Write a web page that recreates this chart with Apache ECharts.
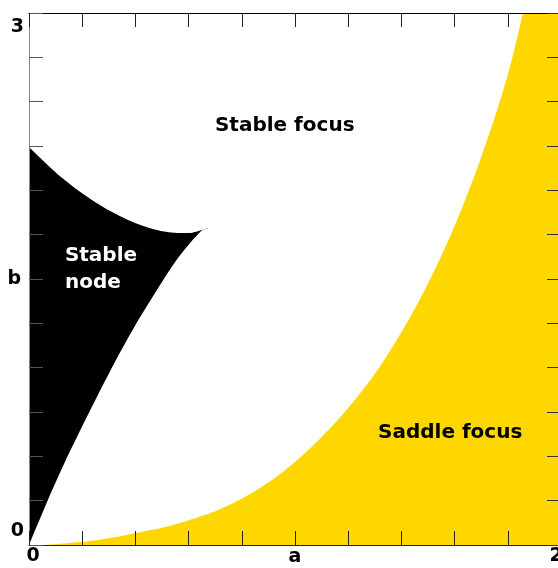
<!DOCTYPE html>
<html>
<head>
<meta charset="utf-8">
<style>
  html, body { margin: 0; padding: 0; background: #fff; }
  #chart { width: 558px; height: 568px; }
</style>
<script src="https://cdn.jsdelivr.net/npm/echarts@6/dist/echarts.min.js"></script>
</head>
<body>
<div id="chart"></div>
<script>
// Parameter plane (a, b): regions classified by the type of equilibrium.

// Upper edge of the stable-node region, from the b axis to the cusp
const nodeUpper = [[0, 2.244], [0.120, 2.075], [0.248, 1.934], [0.372, 1.833],
  [0.496, 1.771], [0.598, 1.759], [0.673, 1.788]];
// Lower edge of the stable-node region, from the origin through the cusp
const nodeLower = [[0, 0], [0.071, 0.254], [0.135, 0.468], [0.195, 0.654], [0.259, 0.846],
  [0.323, 1.032], [0.398, 1.235], [0.474, 1.421], [0.560, 1.618], [0.647, 1.771],
  [0.673, 1.788], [0.70, 1.81]];
// Boundary of the saddle-focus region (continues past the top edge)
const saddleEdge = [[0.06, 0], [0.128, 0.008], [0.267, 0.030], [0.398, 0.066], [0.511, 0.101],
  [0.598, 0.138], [0.711, 0.197], [0.831, 0.287], [0.944, 0.400], [1.068, 0.561],
  [1.195, 0.764], [1.320, 1.008], [1.459, 1.356], [1.583, 1.740], [1.695, 2.166],
  [1.797, 2.635], [1.857, 3.0], [1.92, 3.41], [2.0, 3.99]];

// Region names and their anchor points (left edge of the text)
const regionNames = ['Stable focus', 'Stable\nnode', 'Saddle focus'];
const regionAnchors = [[0.699, 2.363], [0.135, 1.557], [1.312, 0.632]];
const regionColors = ['#000000', '#ffffff', '#000000'];

// Axis ranges and the tick labels shown
const aRange = [0, 2];
const bRange = [0, 3];
const aLabels = { 0: '0', 2: '2' };
const bLabels = { 0: '0', 3: '3' };

const FONT = '"DejaVu Sans", Verdana, sans-serif';

// Filled area under a boundary curve
const areaSeries = (pts, color, z) => ({
  type: 'line',
  data: pts,
  z: z,
  silent: true,
  showSymbol: false,
  smooth: 0.3,
  clip: true,
  lineStyle: { width: 0 },
  areaStyle: { color: color, opacity: 1, origin: 'start' }
});

const tickStyle = (color) => ({ show: true, inside: true, length: 14, lineStyle: { color: color, width: 1 } });
const labelFont = { fontFamily: FONT, fontWeight: 'bold', fontSize: 19, color: '#000' };

const chart = echarts.init(document.getElementById('chart'), null, { renderer: 'canvas' });
chart.setOption({
  animation: false,
  backgroundColor: '#ffffff',
  grid: { left: 29, top: 13, width: 532, height: 532, containLabel: false, outerBoundsMode: 'none' },
  xAxis: [{
    type: 'value', min: aRange[0], max: aRange[1], interval: 0.2, position: 'bottom', z: 5,
    name: 'a', nameLocation: 'middle', nameGap: 3, nameMoveOverlap: false,
    nameTextStyle: Object.assign({ verticalAlign: 'top' }, labelFont),
    axisLine: { show: true, onZero: false, lineStyle: { color: '#222', width: 1 } },
    axisTick: tickStyle('#222'),
    splitLine: { show: false },
    axisLabel: {
      margin: 2,
      formatter: v => {
        const t = aLabels[Math.round(v * 10) / 10];
        if (t === undefined) return '';
        return v === aRange[0] ? '{l|' + t + '}' : '{r|' + t + '}';
      },
      rich: {
        l: Object.assign({ padding: [0, 0, 0, 8] }, labelFont),
        r: Object.assign({ padding: [0, 10, 0, 0] }, labelFont)
      }
    }
  }, {
    type: 'value', min: aRange[0], max: aRange[1], interval: 0.2, position: 'top', z: 5,
    axisLine: { show: true, onZero: false, lineStyle: { color: '#000', width: 1 } },
    axisTick: tickStyle('#222'),
    axisLabel: { show: false },
    splitLine: { show: false }
  }],
  yAxis: [{
    type: 'value', min: bRange[0], max: bRange[1], interval: 0.25, position: 'left', z: 5,
    name: 'b', nameLocation: 'middle', nameGap: 8, nameRotate: 0, nameMoveOverlap: false,
    nameTextStyle: labelFont,
    axisLine: { show: true, onZero: false, lineStyle: { color: '#888', width: 1 } },
    axisTick: tickStyle('#555'),
    splitLine: { show: false },
    axisLabel: {
      margin: 5,
      formatter: v => {
        const t = bLabels[Math.round(v * 100) / 100];
        if (t === undefined) return '';
        return v === bRange[1] ? '{t|' + t + '}' : '{b|' + t + '}';
      },
      rich: {
        t: Object.assign({ padding: [28, 0, 0, 0] }, labelFont),
        b: Object.assign({ padding: [0, 0, 28, 0] }, labelFont)
      }
    }
  }, {
    type: 'value', min: bRange[0], max: bRange[1], interval: 0.25, position: 'right', z: 5,
    axisLine: { show: false, onZero: false },
    axisTick: tickStyle('#333'),
    axisLabel: { show: false },
    splitLine: { show: false }
  }],
  series: [
    // stable node: black under its upper edge, background restored under its lower edge
    areaSeries(nodeUpper, '#000000', 1),
    areaSeries(nodeLower, '#ffffff', 1.1),
    areaSeries(saddleEdge, '#ffd700', 1.2),
    {
      type: 'scatter',
      z: 3,
      silent: true,
      symbolSize: 0,
      itemStyle: { opacity: 1 },
      data: regionNames.map((n, i) => ({
        name: n, value: regionAnchors[i],
        label: { color: regionColors[i] }
      })),
      label: {
        show: true,
        position: 'inside',
        align: 'left',
        verticalAlign: 'middle',
        formatter: p => p.name,
        fontFamily: FONT,
        fontWeight: 'bold',
        fontSize: 20,
        lineHeight: 27,
        opacity: 1
      }
    }
  ]
});
</script>
</body>
</html>
